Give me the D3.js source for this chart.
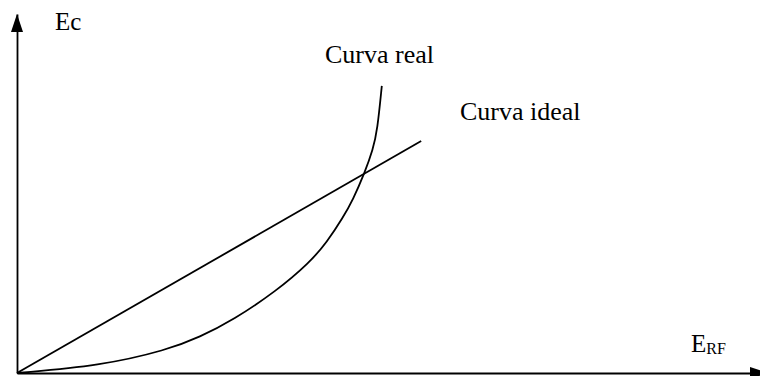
<!DOCTYPE html>
<html>
<head>
<meta charset="utf-8">
<script src="https://cdn.jsdelivr.net/npm/d3@7"></script>
<style>
  html, body { margin: 0; padding: 0; background: #fff; }
  svg { display: block; }
  text { font-family: "Liberation Serif", "Times New Roman", serif; fill: #000; }
</style>
</head>
<body>
<svg id="chart" width="760" height="376"></svg>
<script>
// Data (arbitrary units)
const realX = [0, 1.12, 2.02, 2.46, 2.91, 3.49, 3.94, 4.17, 4.39, 4.52, 4.68, 4.79, 4.85, 4.91];
const realY = [0, 0.10, 0.32, 0.50, 0.74, 1.14, 1.54, 1.82, 2.17, 2.41, 2.79, 3.11, 3.38, 4.00];
const idealX = [0, 5.44];
const idealY = [0, 3.23];
const labels = ["Curva real", "Curva ideal"];
const yAxisLabel = "Ec";
const xAxisLabel = "E";
const xAxisSub = "RF";

(function () {
const svg = d3.select("#chart");
const x = d3.scaleLinear().domain([0, 10]).range([17, 760]);
const y = d3.scaleLinear().domain([0, 5]).range([373, 14]);

// axes (domain lines only)
const gx = svg.append("g").attr("transform", `translate(0,${y(0)})`)
  .call(d3.axisBottom(x).ticks(0).tickSizeOuter(0));
gx.select(".domain").attr("stroke", "#000").attr("stroke-width", 2);
const gy = svg.append("g").attr("transform", `translate(${x(0)},0)`)
  .call(d3.axisLeft(y).ticks(0).tickSizeOuter(0));
gy.select(".domain").attr("stroke", "#000").attr("stroke-width", 1.8);

// arrow heads
const ox = x(0), oy = y(0), yTop = y(5), xEnd = x(10);
svg.append("path")
  .attr("d", `M${ox},${yTop} L${ox - 6},${yTop + 18} L${ox + 6},${yTop + 18} Z`)
  .attr("fill", "#000");
svg.append("path")
  .attr("d", `M${xEnd + 8},${oy} L${xEnd - 10},${oy - 6} L${xEnd - 10},${oy + 6} Z`)
  .attr("fill", "#000");

// lines
const line = d3.line().x(d => x(d[0])).y(d => y(d[1]));
svg.append("path")
  .datum(idealX.map((v, i) => [v, idealY[i]]))
  .attr("d", line)
  .attr("fill", "none").attr("stroke", "#000").attr("stroke-width", 1.8);
svg.append("path")
  .datum(realX.map((v, i) => [v, realY[i]]))
  .attr("d", line.curve(d3.curveBasis))
  .attr("fill", "none").attr("stroke", "#000").attr("stroke-width", 1.8);

// labels
svg.append("text").attr("x", 55).attr("y", 30).attr("font-size", 25).text(yAxisLabel);
const xl = svg.append("text").attr("x", 691).attr("y", 352).attr("font-size", 25);
xl.append("tspan").text(xAxisLabel);
xl.append("tspan").attr("font-size", 16).attr("dy", 2).text(xAxisSub);
svg.append("text").attr("x", 325).attr("y", 63).attr("font-size", 26).text(labels[0]);
svg.append("text").attr("x", 460).attr("y", 120).attr("font-size", 26).text(labels[1]);
})();
</script>
</body>
</html>
